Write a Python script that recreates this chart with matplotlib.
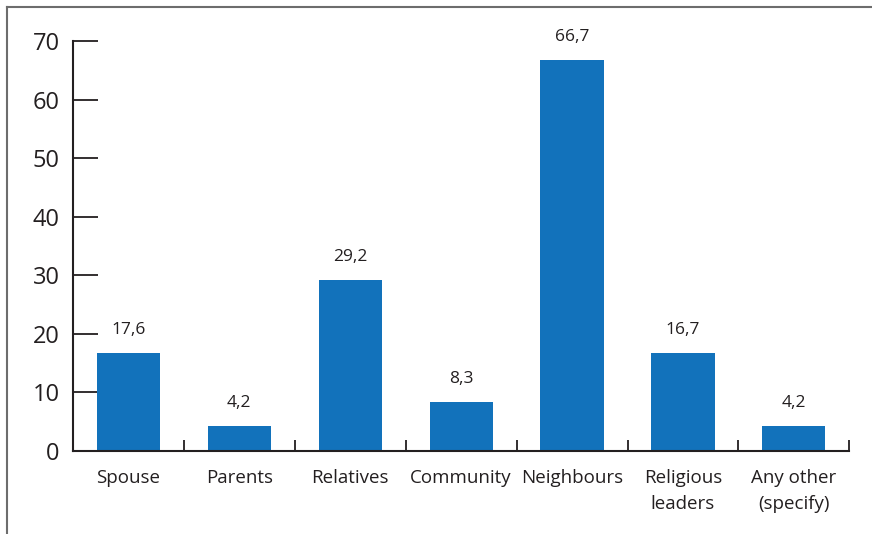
import numpy as np
import matplotlib.pyplot as plt
from matplotlib.lines import Line2D

plt.rcParams['font.family'] = ['Open Sans', 'DejaVu Sans']

categories = ['Spouse', 'Parents', 'Relatives', 'Community', 'Neighbours',
              'Religious\nleaders', 'Any other\n(specify)']
# bar heights as drawn (spouse bar is drawn at the same height as religious leaders)
values = [16.7, 4.2, 29.2, 8.3, 66.7, 16.7, 4.2]
value_labels = ['17,6', '4,2', '29,2', '8,3', '66,7', '16,7', '4,2']
y_ticks = [0, 10, 20, 30, 40, 50, 60, 70]

fig = plt.figure(figsize=(8.72, 5.34), dpi=100)
ax = fig.add_axes([0.0837, 0.1554, 0.8903, 0.7676])

x = np.arange(len(categories))
bars = ax.bar(x, values, width=0.57, color='#1272bb', zorder=2)

for b, lab in zip(bars, value_labels):
    ax.annotate(lab, (b.get_x() + b.get_width() / 2, b.get_height()),
                xytext=(0, 11), textcoords='offset points',
                ha='center', va='bottom', fontsize=12.5, color='#231f20')

ax.set_xlim(-0.5, len(categories) - 0.5)
ax.set_ylim(0, 70)
ax.set_yticks(y_ticks)
ax.set_yticklabels([str(t) for t in y_ticks], fontsize=17, color='#231f20')
ax.set_xticks(x)
ax.set_xticklabels(categories, fontsize=13.5, color='#231f20', linespacing=1.55)
ax.set_xticks(np.arange(-0.5, len(categories)), minor=True)

ax.tick_params(axis='x', which='major', length=0, pad=13)
ax.tick_params(axis='x', which='minor', direction='in', length=8, width=1.3, color='#231f20')
ax.tick_params(axis='y', direction='in', length=18, width=1.3, color='#231f20', pad=9.5)

for s in ['top', 'right']:
    ax.spines[s].set_visible(False)
for s in ['left', 'bottom']:
    ax.spines[s].set_linewidth(1.5)
    ax.spines[s].set_color('#231f20')

# outer frame (top and left edges)
fig.add_artist(Line2D([7 / 872, 1], [1 - 7 / 534, 1 - 7 / 534], color='#6d6d6d', lw=1.5))
fig.add_artist(Line2D([7 / 872, 7 / 872], [0, 1 - 7 / 534], color='#6d6d6d', lw=1.5))

fig.savefig('out.png', dpi=100)
